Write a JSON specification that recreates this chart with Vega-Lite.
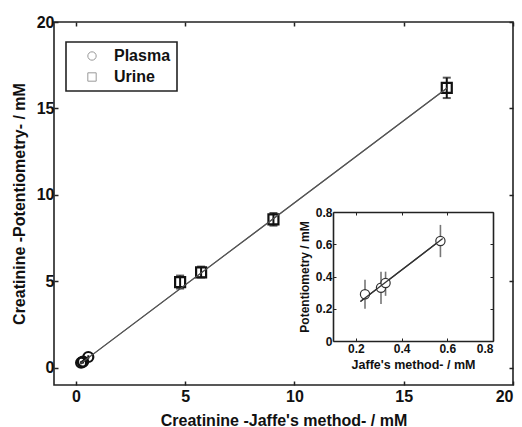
{
  "$schema": "https://vega.github.io/schema/vega-lite/v6.json",
  "width": 459,
  "height": 363,
  "autosize": "none",
  "padding": {"left": 54, "top": 22, "right": 9, "bottom": 42},
  "background": "white",
  "config": {
    "view": {"stroke": "#222", "strokeWidth": 1.6},
    "font": "Liberation Sans",
    "legend": {"strokeWidth": 1.6},
    "axis": {"grid": false, "labelFont": "Liberation Sans", "titleFont": "Liberation Sans", "labelFontWeight": "bold", "titleFontWeight": "bold", "labelColor": "#111", "titleColor": "#111", "tickColor": "#222", "domainColor": "#222"}
  },
  "datasets": {
    "pts": [
      {"type": "Plasma", "jaffe": 0.24, "pot": 0.29, "lo": 0.20, "hi": 0.38},
      {"type": "Plasma", "jaffe": 0.31, "pot": 0.33, "lo": 0.23, "hi": 0.43},
      {"type": "Plasma", "jaffe": 0.33, "pot": 0.36, "lo": 0.28, "hi": 0.43},
      {"type": "Plasma", "jaffe": 0.57, "pot": 0.62, "lo": 0.52, "hi": 0.72},
      {"type": "Urine", "jaffe": 4.77, "pot": 4.95, "lo": 4.58, "hi": 5.33},
      {"type": "Urine", "jaffe": 5.73, "pot": 5.52, "lo": 5.22, "hi": 5.85},
      {"type": "Urine", "jaffe": 9.04, "pot": 8.58, "lo": 8.22, "hi": 8.95},
      {"type": "Urine", "jaffe": 16.97, "pot": 16.19, "lo": 15.6, "hi": 16.78}
    ],
    "mainfit": [{"jaffe": 0.2, "pot": 0.22}, {"jaffe": 17.0, "pot": 16.2}],
    "insetfit": [{"jaffe": 0.22, "pot": 0.245}, {"jaffe": 0.58, "pot": 0.635}]
  },
  "layer": [
    {
      "encoding": {
        "x": {"field": "jaffe", "type": "quantitative", "scale": {"domain": [-1, 20], "nice": false, "zero": false},
          "axis": {"orient": "bottom", "values": [0, 5, 10, 15, 20], "domain": false, "tickSize": -4, "tickWidth": 1.5, "labelFontSize": 16, "labelPadding": 7, "title": "Creatinine -Jaffe's method- / mM", "titleFontSize": 16, "titlePadding": 8}},
        "y": {"field": "pot", "type": "quantitative", "scale": {"domain": [-1, 20], "nice": false, "zero": false},
          "axis": {"orient": "left", "values": [0, 5, 10, 15, 20], "domain": false, "tickSize": -4, "tickWidth": 1.5, "labelFontSize": 16, "labelPadding": 4, "title": "Creatinine -Potentiometry- / mM", "titleFontSize": 16, "titlePadding": 9}}
      },
      "layer": [
        {"data": {"name": "mainfit"}, "mark": {"type": "line", "color": "#555", "strokeWidth": 1.1}},
        {"data": {"name": "pts"}, "mark": {"type": "rule", "color": "#111", "strokeWidth": 2}, "encoding": {"y": {"field": "lo", "type": "quantitative"}, "y2": {"field": "hi"}}},
        {"data": {"name": "pts"}, "transform": [{"filter": "datum.type === 'Urine'"}], "mark": {"type": "tick", "orient": "horizontal", "color": "#111", "thickness": 2, "size": 8}, "encoding": {"y": {"field": "lo", "type": "quantitative"}}},
        {"data": {"name": "pts"}, "transform": [{"filter": "datum.type === 'Urine'"}], "mark": {"type": "tick", "orient": "horizontal", "color": "#111", "thickness": 2, "size": 8}, "encoding": {"y": {"field": "hi", "type": "quantitative"}}},
        {"data": {"name": "pts"}, "mark": {"type": "point", "filled": false, "stroke": "#111", "strokeWidth": 2.2, "size": 100, "opacity": 1},
          "encoding": {"shape": {"field": "type", "type": "nominal", "scale": {"domain": ["Plasma", "Urine"], "range": ["circle", "square"]},
            "legend": {"title": null, "orient": "none", "legendX": 12, "legendY": 20, "padding": 6, "strokeColor": "#222", "labelFont": "Liberation Sans", "labelFontSize": 16, "labelFontWeight": "bold", "labelColor": "#111", "symbolStrokeColor": "#999", "symbolStrokeWidth": 1, "symbolSize": 70, "symbolFillColor": "transparent", "labelOffset": 14, "rowPadding": 5, "symbolOffset": 12}}}}
      ]
    },
    {
      "data": {"name": "mainfit"},
      "mark": {"type": "line", "color": "#555", "strokeWidth": 1.1},
      "encoding": {
        "x": {"field": "jaffe", "type": "quantitative", "scale": {"domain": [-1, 20], "nice": false, "zero": false},
          "axis": {"orient": "top", "values": [0, 5, 10, 15, 20], "domain": false, "tickSize": -4, "tickWidth": 1.5, "labels": false, "title": null}},
        "y": {"field": "pot", "type": "quantitative", "scale": {"domain": [-1, 20], "nice": false, "zero": false},
          "axis": {"orient": "right", "values": [0, 5, 10, 15, 20], "domain": false, "tickSize": -4, "tickWidth": 1.5, "labels": false, "title": null}}
      }
    },
    {
      "encoding": {
        "x": {"field": "jaffe", "type": "quantitative", "scale": {"domain": [0.1, 0.8], "range": [279, 439], "nice": false, "zero": false},
          "axis": {"orient": "bottom", "offset": -44, "values": [0.2, 0.4, 0.6, 0.8], "format": ".1~f", "domainWidth": 1.6, "tickSize": -3, "labelFontSize": 12, "labelPadding": 5, "title": "Jaffe's method- / mM", "titleFontSize": 12.5, "titlePadding": 4}},
        "y": {"field": "pot", "type": "quantitative", "scale": {"domain": [0, 0.8], "range": [319, 190], "nice": false, "zero": false},
          "axis": {"orient": "left", "offset": -279, "values": [0, 0.2, 0.4, 0.6, 0.8], "format": ".1~f", "domainWidth": 1.6, "tickSize": -3, "labelFontSize": 12, "labelPadding": 4, "title": "Potentiometry / mM", "titleFontSize": 12, "titlePadding": 4}}
      },
      "layer": [
        {"data": {"name": "pts"}, "transform": [{"filter": "datum.type === 'Plasma'"}], "mark": {"type": "rule", "color": "#777", "strokeWidth": 1.6}, "encoding": {"y": {"field": "lo", "type": "quantitative"}, "y2": {"field": "hi"}}},
        {"data": {"name": "insetfit"}, "mark": {"type": "line", "color": "#333", "strokeWidth": 1.3}},
        {"data": {"name": "pts"}, "transform": [{"filter": "datum.type === 'Plasma'"}], "mark": {"type": "point", "shape": "circle", "filled": false, "fill": "white", "fillOpacity": 1, "stroke": "#333", "strokeWidth": 1.2, "size": 85, "opacity": 1}}
      ]
    },
    {
      "data": {"name": "insetfit"},
      "mark": {"type": "line", "color": "#333", "strokeWidth": 1.3},
      "encoding": {
        "x": {"field": "jaffe", "type": "quantitative", "scale": {"domain": [0.1, 0.8], "range": [279, 439], "nice": false, "zero": false},
          "axis": {"orient": "top", "offset": -190, "values": [0.2, 0.4, 0.6, 0.8], "domainWidth": 1.6, "tickSize": -3, "labels": false, "title": null}},
        "y": {"field": "pot", "type": "quantitative", "scale": {"domain": [0, 0.8], "range": [319, 190], "nice": false, "zero": false},
          "axis": {"orient": "right", "offset": -20, "values": [0, 0.2, 0.4, 0.6, 0.8], "domainWidth": 1.6, "tickSize": -3, "labels": false, "title": null}}
      }
    }
  ],
  "resolve": {"scale": {"x": "independent", "y": "independent"}, "axis": {"x": "independent", "y": "independent"}}
}
